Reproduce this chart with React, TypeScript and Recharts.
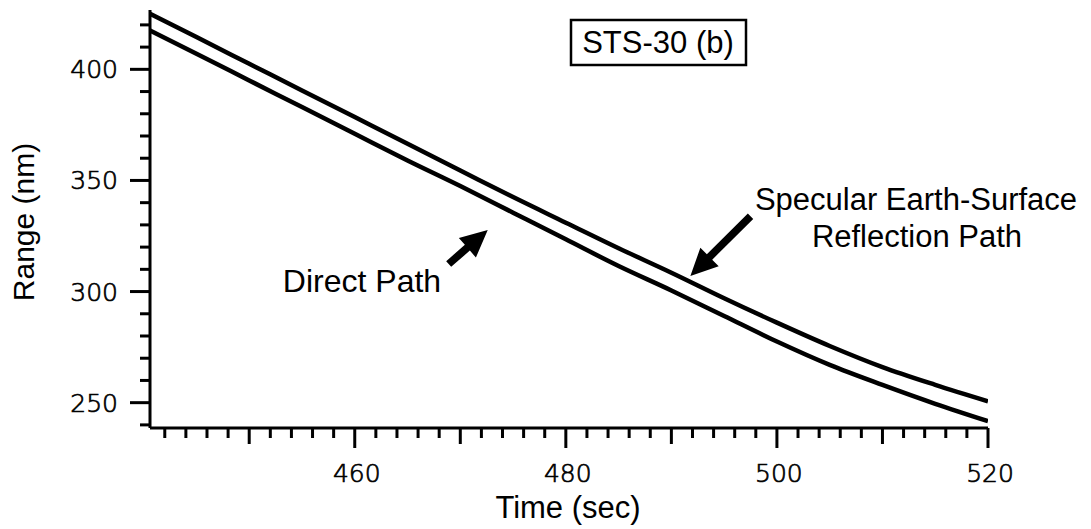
import { LineChart, Line, XAxis, YAxis, ReferenceLine, Customized } from 'recharts';

// time (sec) and range (nm)
const times = [440.6, 445, 450, 455, 460, 465, 470, 475, 480, 485, 490, 495, 500, 505, 510, 515, 520];
const specularPath = [425, 414.5, 402.5, 390.5, 378.5, 366.5, 354.5, 342.5, 331, 319.5, 308.5, 297, 286, 275.5, 266, 258, 250.6];
const directPath = [417.5, 407, 395, 383, 371, 359, 347.5, 335.5, 323.5, 311.5, 300.5, 289, 277.5, 267, 258, 249.5, 241.7];

const xTicks = Array.from({ length: 40 }, (_, i) => 442 + i * 2);
const yTicks = [240, 250, 260, 270, 280, 290, 300, 310, 320, 330, 340, 350, 360, 370, 380, 390, 400, 410, 420];

const data = times.map((t, i) => ({ t, specular: specularPath[i], direct: directPath[i] }));

const SANS = 'Liberation Sans, Arial, Helvetica, sans-serif';
const TICKFONT = 'DejaVu Sans, sans-serif';

const tickText = {
  fontFamily: TICKFONT,
  fontWeight: 200,
  fontSize: 25,
  fill: '#000',
  stroke: '#000',
  strokeWidth: 0.7,
};

const YTick = (props: any) => {
  const { x, y, payload } = props;
  const v = payload.value;
  const major = v % 50 === 0;
  return (
    <g>
      <line x1={x} x2={x - (major ? 20 : 10)} y1={y} y2={y} stroke="#000" strokeWidth={3} />
      {major && (
        <text x={x - 32} y={y + 9} textAnchor="end" {...tickText}>
          {v}
        </text>
      )}
    </g>
  );
};

const XTick = (props: any) => {
  const { x, y, payload } = props;
  const v = payload.value;
  const labeled = v % 20 === 0;
  const len = labeled ? 20 : v % 10 === 0 ? 16 : 10;
  return (
    <g>
      <line x1={x} x2={x} y1={y} y2={y + len} stroke="#000" strokeWidth={3} />
      {labeled && (
        <text x={x + 2} y={y + 54} textAnchor="middle" {...tickText}>
          {v}
        </text>
      )}
    </g>
  );
};

const Arrow = (props: any) => {
  const { x1, y1, x2, y2 } = props;
  const dx = x2 - x1;
  const dy = y2 - y1;
  const len = Math.sqrt(dx * dx + dy * dy);
  const ux = dx / len;
  const uy = dy / len;
  const px = -uy;
  const py = ux;
  const head = 27;
  const hw = 13;
  const sw = 3.8;
  const bx = x2 - ux * head;
  const by = y2 - uy * head;
  const pts = [
    [x1 + px * sw, y1 + py * sw],
    [bx + px * sw, by + py * sw],
    [bx + px * hw, by + py * hw],
    [x2, y2],
    [bx - px * hw, by - py * hw],
    [bx - px * sw, by - py * sw],
    [x1 - px * sw, y1 - py * sw],
  ]
    .map((p) => p.join(','))
    .join(' ');
  return <polygon points={pts} fill="#000" />;
};

const Notes = () => (
  <g fontFamily={SANS} fill="#000">
    <rect x={571} y={20} width={175} height={45} fill="none" stroke="#000" strokeWidth={2.5} />
    <text x={658} y={53} textAnchor="middle" fontSize={31}>STS-30 (b)</text>
    <text x={916} y={210} textAnchor="middle" fontSize={31}>Specular Earth-Surface</text>
    <text x={917} y={247} textAnchor="middle" fontSize={31}>Reflection Path</text>
    <text x={362} y={292} textAnchor="middle" fontSize={32}>Direct Path</text>
    <text x={568} y={518} textAnchor="middle" fontSize={31}>Time (sec)</text>
    <text x={34} y={222} textAnchor="middle" fontSize={30} transform="rotate(-90 34 222)">Range (nm)</text>
  </g>
);

export default function App() {
  return (
    <div style={{ position: 'absolute', left: 0, top: 0, background: '#fff' }}>
      <LineChart width={1091} height={529} data={data} margin={{ top: 10, right: 103, left: 0, bottom: 0 }}>
        <XAxis
          dataKey="t"
          type="number"
          domain={[440.6, 520]}
          allowDataOverflow
          ticks={xTicks}
          interval={0}
          height={101}
          tickSize={0}
          tickMargin={0}
          tickLine={false}
          tick={XTick}
          axisLine={{ stroke: '#000', strokeWidth: 3 }}
        />
        <YAxis
          type="number"
          domain={[238.6, 426.7]}
          allowDataOverflow
          ticks={yTicks}
          interval={0}
          width={150}
          tickSize={0}
          tickMargin={0}
          tickLine={false}
          tick={YTick}
          axisLine={{ stroke: '#000', strokeWidth: 3 }}
        />
        <Line type="monotone" dataKey="specular" stroke="#000" strokeWidth={4.5} dot={false} isAnimationActive={false} />
        <Line type="monotone" dataKey="direct" stroke="#000" strokeWidth={4.5} dot={false} isAnimationActive={false} />
        <ReferenceLine segment={[{ x: 468.9, y: 312.4 }, { x: 472.6, y: 327.7 }]} shape={Arrow} />
        <ReferenceLine segment={[{ x: 497.5, y: 333.9 }, { x: 491.8, y: 307 }]} shape={Arrow} />
        <Customized component={Notes} />
      </LineChart>
    </div>
  );
}
